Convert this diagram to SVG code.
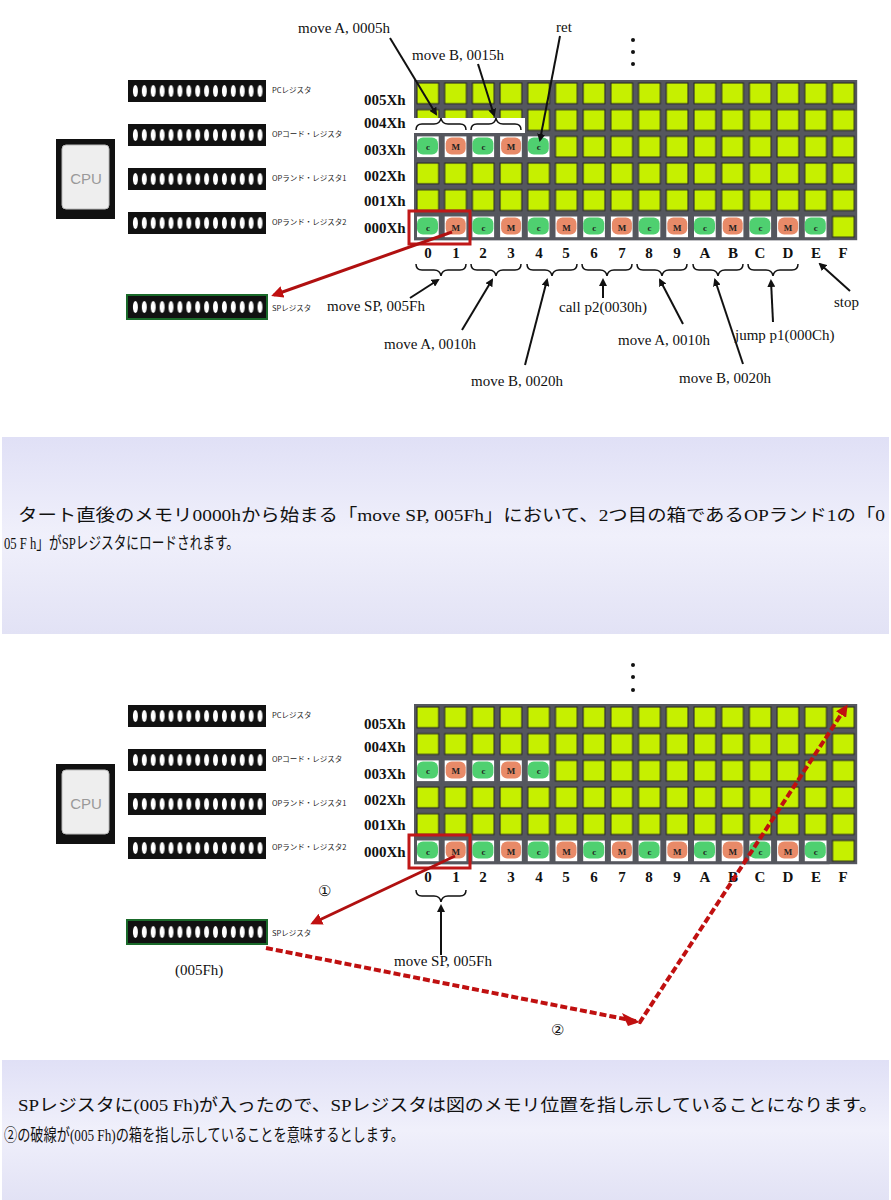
<svg xmlns="http://www.w3.org/2000/svg" xmlns:xlink="http://www.w3.org/1999/xlink" width="891" height="1200" viewBox="0 0 891 1200">
<style>
.lbl{font-family:"Liberation Serif",serif;font-size:15px;fill:#111}
.row{font-family:"Liberation Serif",serif;font-size:15px;font-weight:bold;fill:#111}
.col{font-family:"Liberation Serif",serif;font-size:15px;font-weight:bold;fill:#111;text-anchor:middle}
.reg{font-family:"Noto Sans CJK JP",sans-serif;font-size:7.5px;fill:#222}
.jp{font-family:"Liberation Serif","Noto Sans CJK JP",serif;font-size:17px;fill:#111}
.blk{stroke:#111;stroke-width:2;fill:none}
.brace{stroke:#111;stroke-width:1.5;fill:none}
.cm{font-family:"Liberation Serif",serif;font-size:9px;font-weight:bold;fill:#222;text-anchor:middle}
</style>
<defs>
<pattern id="gridT" patternUnits="userSpaceOnUse" x="414" y="80" width="27.7" height="26.7">
<rect width="27.7" height="26.7" fill="#55575e"/><rect x="3" y="3" width="21.7" height="20.7" fill="#c6f000" stroke="#222" stroke-width="1"/>
</pattern>
<pattern id="gridB" patternUnits="userSpaceOnUse" x="414" y="704" width="27.7" height="26.7">
<rect width="27.7" height="26.7" fill="#55575e"/><rect x="3" y="3" width="21.7" height="20.7" fill="#c6f000" stroke="#222" stroke-width="1"/>
</pattern>
<pattern id="ov" patternUnits="userSpaceOnUse" x="131" y="0" width="8.9" height="22">
<ellipse cx="4.4" cy="11" rx="2.5" ry="6" fill="#fff"/>
</pattern>
<g id="C"><rect width="27.7" height="26.7" fill="#55575e"/><rect x="3" y="3" width="21.7" height="20.7" fill="#fff"/><rect x="3" y="4" width="21" height="17" rx="6" fill="#4fd070"/><text x="14" y="17" class="cm">c</text></g>
<g id="M"><rect width="27.7" height="26.7" fill="#55575e"/><rect x="3" y="3" width="21.7" height="20.7" fill="#fff"/><rect x="4" y="4" width="20" height="17" rx="6" fill="#e88a68"/><text x="14" y="17" class="cm">M</text></g>
<g id="bar"><rect x="128" y="0" width="138" height="22" fill="#111"/><rect x="131" y="0" width="133" height="22" fill="url(#ov)"/></g>
<g id="cpu"><rect width="59" height="80" fill="#111"/><rect x="6" y="6" width="47" height="64" rx="4" fill="#eee" stroke="#bbb"/><text x="30" y="45" font-family="Liberation Sans,sans-serif" font-size="15" fill="#999" text-anchor="middle">CPU</text></g>
<marker id="ah" markerWidth="8" markerHeight="8" refX="6" refY="4" orient="auto" markerUnits="userSpaceOnUse" viewBox="0 0 8 8"><path d="M0,0 L8,4 L0,8 z" fill="#111"/></marker>
<marker id="ahr" markerWidth="12" markerHeight="12" refX="9" refY="6" orient="auto" markerUnits="userSpaceOnUse" viewBox="0 0 12 12"><path d="M0,0 L12,6 L0,12 z" fill="#c01010"/></marker>
<linearGradient id="pan" x1="0" y1="0" x2="0" y2="1"><stop offset="0" stop-color="#e0e0f6"/><stop offset="0.5" stop-color="#f0f0fb"/><stop offset="1" stop-color="#e2e2f5"/></linearGradient>
</defs>
<rect width="891" height="1200" fill="#fff"/>
<rect x="2" y="437" width="887" height="197" fill="url(#pan)"/>
<rect x="2" y="1060" width="887" height="140" fill="url(#pan)"/>

<!-- TOP -->
<g id="cpu-top"><use href="#cpu" x="56" y="139"/></g>
<g id="regs-top">
<use href="#bar" y="80"/><text x="272" y="93" class="reg">PCレジスタ</text>
<use href="#bar" y="124"/><text x="272" y="137" class="reg">OPコード・レジスタ</text>
<use href="#bar" y="168"/><text x="272" y="181" class="reg">OPランド・レジスタ1</text>
<use href="#bar" y="212"/><text x="272" y="225" class="reg">OPランド・レジスタ2</text>
<rect x="126" y="294" width="142" height="26" fill="#1a6a2a"/><use href="#bar" y="296"/><text x="272" y="311" class="reg">SPレジスタ</text>
</g>
<g id="mem-top">
<rect x="414" y="80" width="443.2" height="160.2" fill="url(#gridT)"/>
<rect x="414" y="118" width="111" height="15" fill="#fff"/>
<use href="#C" x="414" y="133.4"/><use href="#M" x="441.7" y="133.4"/><use href="#C" x="469.4" y="133.4"/><use href="#M" x="497.1" y="133.4"/><use href="#C" x="524.8" y="133.4"/>
<use href="#C" x="414" y="213.5"/><use href="#M" x="441.7" y="213.5"/><use href="#C" x="469.4" y="213.5"/><use href="#M" x="497.1" y="213.5"/><use href="#C" x="524.8" y="213.5"/><use href="#M" x="552.5" y="213.5"/><use href="#C" x="580.2" y="213.5"/><use href="#M" x="607.9" y="213.5"/><use href="#C" x="635.6" y="213.5"/><use href="#M" x="663.3" y="213.5"/><use href="#C" x="691" y="213.5"/><use href="#M" x="718.7" y="213.5"/><use href="#C" x="746.4" y="213.5"/><use href="#M" x="774.1" y="213.5"/><use href="#C" x="801.8" y="213.5"/>
<text x="364" y="105" class="row">005Xh</text><text x="364" y="128" class="row">004Xh</text><text x="364" y="155" class="row">003Xh</text><text x="364" y="181" class="row">002Xh</text><text x="364" y="206" class="row">001Xh</text><text x="364" y="233" class="row">000Xh</text>
<g class="col"><text x="428" y="258">0</text><text x="456" y="258">1</text><text x="483" y="258">2</text><text x="511" y="258">3</text><text x="539" y="258">4</text><text x="566" y="258">5</text><text x="594" y="258">6</text><text x="622" y="258">7</text><text x="649" y="258">8</text><text x="677" y="258">9</text><text x="705" y="258">A</text><text x="733" y="258">B</text><text x="760" y="258">C</text><text x="788" y="258">D</text><text x="816" y="258">E</text><text x="843" y="258">F</text></g>
<g fill="#111"><circle cx="633" cy="40" r="2"/><circle cx="633" cy="52" r="2"/><circle cx="633" cy="64" r="2"/></g>
<path class="brace" d="M416,130 q0,-6 6,-6 h12 q6,0 7,-6 q1,6 7,6 h12 q6,0 6,6"/>
<path class="brace" d="M471,130 q0,-6 6,-6 h12 q6,0 7,-6 q1,6 7,6 h12 q6,0 6,6"/>
<g class="brace"><path d="M416,264 q0,6 6,6 h12 q6,0 7,6 q1,-6 7,-6 h12 q6,0 6,-6"/><path d="M471,264 q0,6 6,6 h12 q6,0 7,6 q1,-6 7,-6 h12 q6,0 6,-6"/><path d="M527,264 q0,6 6,6 h12 q6,0 7,6 q1,-6 7,-6 h12 q6,0 6,-6"/><path d="M582,264 q0,6 6,6 h12 q6,0 7,6 q1,-6 7,-6 h12 q6,0 6,-6"/><path d="M637,264 q0,6 6,6 h12 q6,0 7,6 q1,-6 7,-6 h12 q6,0 6,-6"/><path d="M693,264 q0,6 6,6 h12 q6,0 7,6 q1,-6 7,-6 h12 q6,0 6,-6"/><path d="M748,264 q0,6 6,6 h12 q6,0 7,6 q1,-6 7,-6 h12 q6,0 6,-6"/></g>
</g>
<g id="connectors-top">
<line class="blk" x1="390" y1="38" x2="436" y2="114" marker-end="url(#ah)"/>
<line class="blk" x1="478" y1="64" x2="494" y2="115" marker-end="url(#ah)"/>
<line class="blk" x1="560" y1="36" x2="540" y2="140" marker-end="url(#ah)"/>
<line class="blk" x1="410" y1="298" x2="438" y2="280" marker-end="url(#ah)"/>
<line class="blk" x1="462" y1="330" x2="492" y2="280" marker-end="url(#ah)"/>
<line class="blk" x1="525" y1="365" x2="547" y2="280" marker-end="url(#ah)"/>
<line class="blk" x1="603" y1="298" x2="603" y2="280" marker-end="url(#ah)"/>
<line class="blk" x1="683" y1="324" x2="660" y2="280" marker-end="url(#ah)"/>
<line class="blk" x1="743" y1="364" x2="715" y2="280" marker-end="url(#ah)"/>
<line class="blk" x1="773" y1="322" x2="771" y2="281" marker-end="url(#ah)"/>
<line class="blk" x1="850" y1="291" x2="820" y2="264" marker-end="url(#ah)"/>
<rect x="409" y="211" width="61" height="33" fill="none" stroke="#c01818" stroke-width="3"/>
<line x1="452" y1="232" x2="274" y2="295" stroke="#b01010" stroke-width="3" marker-end="url(#ahr)"/>
</g>
<g id="labels-top" class="lbl">
<text x="298" y="33">move A, 0005h</text><text x="412" y="60">move B, 0015h</text><text x="556" y="32">ret</text>
<text x="327" y="311">move SP, 005Fh</text><text x="384" y="349">move A, 0010h</text><text x="471" y="386">move B, 0020h</text>
<text x="559" y="312">call p2(0030h)</text><text x="618" y="345">move A, 0010h</text><text x="679" y="383">move B, 0020h</text>
<text x="735" y="340">jump p1(000Ch)</text><text x="834" y="307">stop</text>
</g>
<g id="text-top" class="jp">
<text x="18" y="521" textLength="867" lengthAdjust="spacingAndGlyphs">タート直後のメモリ0000hから始まる「move SP, 005Fh」において、2つ目の箱であるOPランド1の「0</text>
<text x="4" y="549" textLength="235" lengthAdjust="spacingAndGlyphs">05 F h」がSPレジスタにロードされます。</text>
</g>

<!-- BOTTOM -->
<g id="cpu-bot"><use href="#cpu" x="56" y="764"/></g>
<g id="regs-bot">
<use href="#bar" y="705"/><text x="272" y="718" class="reg">PCレジスタ</text>
<use href="#bar" y="749"/><text x="272" y="762" class="reg">OPコード・レジスタ</text>
<use href="#bar" y="793"/><text x="272" y="806" class="reg">OPランド・レジスタ1</text>
<use href="#bar" y="837"/><text x="272" y="850" class="reg">OPランド・レジスタ2</text>
<rect x="126" y="919" width="142" height="26" fill="#1a6a2a"/><use href="#bar" y="921"/><text x="272" y="936" class="reg">SPレジスタ</text>
<text x="175" y="975" class="lbl">(005Fh)</text>
</g>
<g id="mem-bot">
<rect x="414" y="704" width="443.2" height="160.2" fill="url(#gridB)"/>
<use href="#C" x="414" y="757.4"/><use href="#M" x="441.7" y="757.4"/><use href="#C" x="469.4" y="757.4"/><use href="#M" x="497.1" y="757.4"/><use href="#C" x="524.8" y="757.4"/>
<use href="#C" x="414" y="837.5"/><use href="#M" x="441.7" y="837.5"/><use href="#C" x="469.4" y="837.5"/><use href="#M" x="497.1" y="837.5"/><use href="#C" x="524.8" y="837.5"/><use href="#M" x="552.5" y="837.5"/><use href="#C" x="580.2" y="837.5"/><use href="#M" x="607.9" y="837.5"/><use href="#C" x="635.6" y="837.5"/><use href="#M" x="663.3" y="837.5"/><use href="#C" x="691" y="837.5"/><use href="#M" x="718.7" y="837.5"/><use href="#C" x="746.4" y="837.5"/><use href="#M" x="774.1" y="837.5"/><use href="#C" x="801.8" y="837.5"/>
<text x="364" y="729" class="row">005Xh</text><text x="364" y="752" class="row">004Xh</text><text x="364" y="779" class="row">003Xh</text><text x="364" y="805" class="row">002Xh</text><text x="364" y="830" class="row">001Xh</text><text x="364" y="857" class="row">000Xh</text>
<g class="col"><text x="428" y="882">0</text><text x="456" y="882">1</text><text x="483" y="882">2</text><text x="511" y="882">3</text><text x="539" y="882">4</text><text x="566" y="882">5</text><text x="594" y="882">6</text><text x="622" y="882">7</text><text x="649" y="882">8</text><text x="677" y="882">9</text><text x="705" y="882">A</text><text x="733" y="882">B</text><text x="760" y="882">C</text><text x="788" y="882">D</text><text x="816" y="882">E</text><text x="843" y="882">F</text></g>
<g fill="#111"><circle cx="633" cy="665" r="2"/><circle cx="633" cy="677" r="2"/><circle cx="633" cy="690" r="2"/></g>
<path class="brace" d="M416,890 q0,6 6,6 h12 q6,0 7,6 q1,-6 7,-6 h12 q6,0 6,-6"/>
</g>
<g id="connectors-bot">
<line class="blk" x1="441" y1="955" x2="441" y2="906" marker-end="url(#ah)"/>
<rect x="409" y="835" width="61" height="33" fill="none" stroke="#c01818" stroke-width="3"/>
<line x1="455" y1="856" x2="313" y2="923" stroke="#b01010" stroke-width="3" marker-end="url(#ahr)"/>
<polyline points="266,948 640,1022 846,707" fill="none" stroke="#c01010" stroke-width="4" stroke-dasharray="7,3" marker-end="url(#ahr)"/>
<path d="M622,1013 L640,1022 L628,1026" fill="#c01010"/>
</g>
<g id="labels-bot" class="lbl">
<text x="318" y="896">①</text><text x="551" y="1035">②</text>
<text x="394" y="966">move SP, 005Fh</text>
</g>
<g id="text-bot" class="jp">
<text x="18" y="1111" textLength="860" lengthAdjust="spacingAndGlyphs">SPレジスタに(005 Fh)が入ったので、SPレジスタは図のメモリ位置を指し示していることになります。</text>
<text x="4" y="1141" textLength="400" lengthAdjust="spacingAndGlyphs">②の破線が(005 Fh)の箱を指し示していることを意味するとします。</text>
</g>
</svg>
